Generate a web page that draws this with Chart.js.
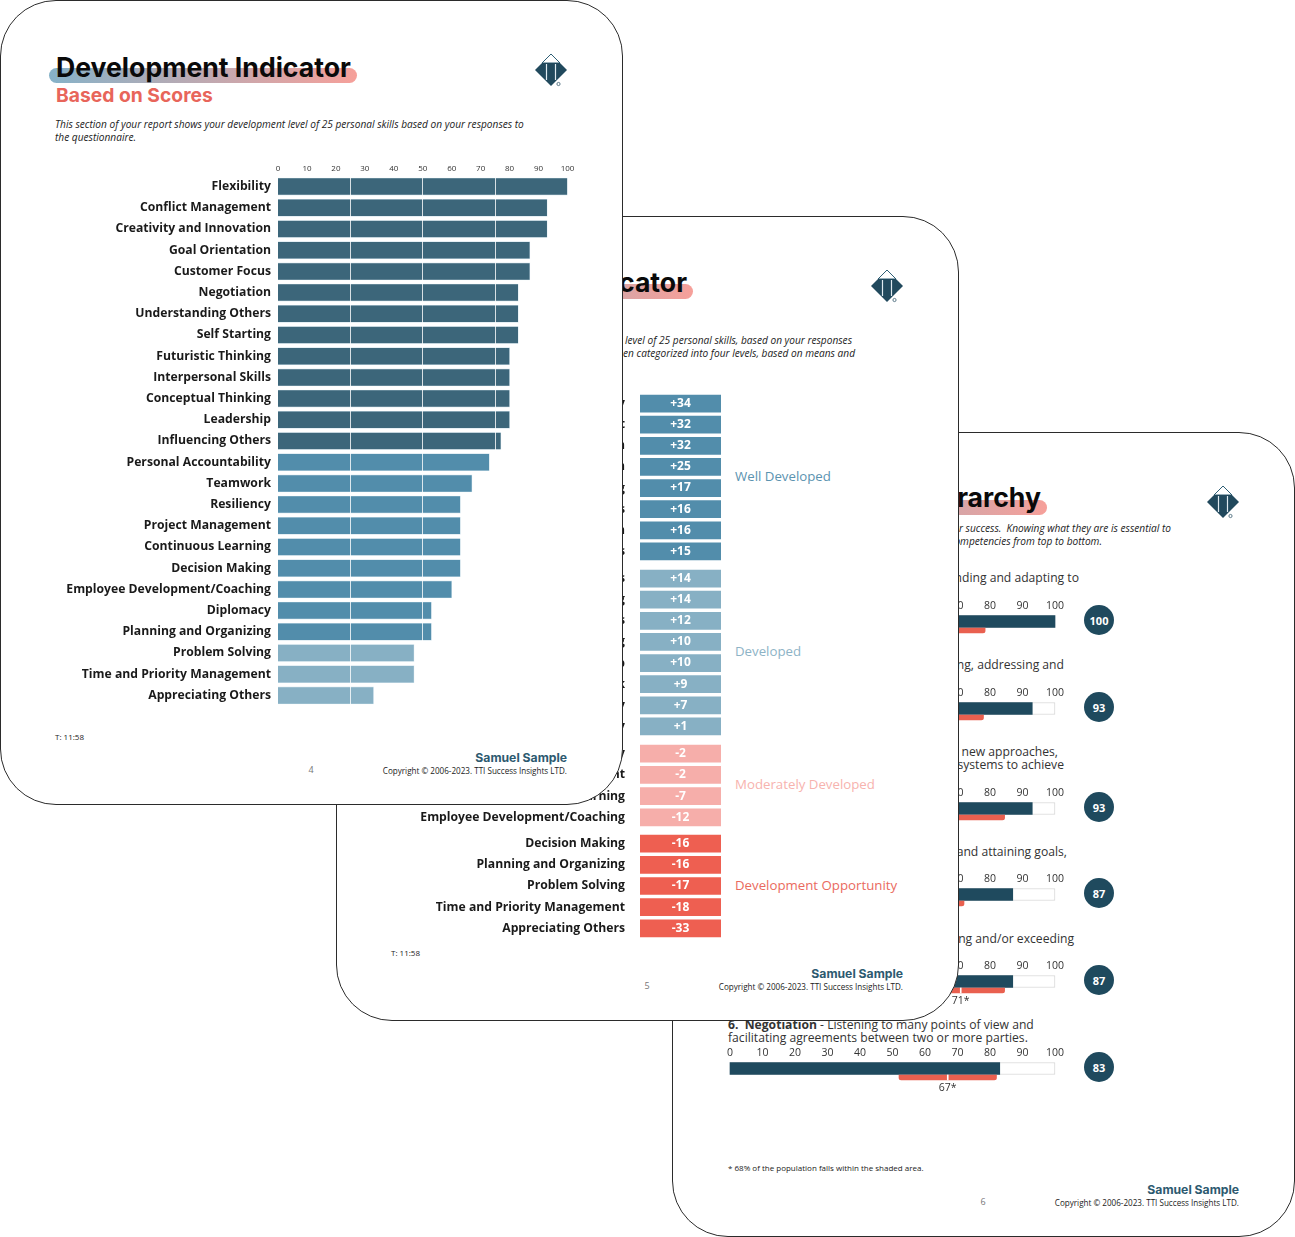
<!DOCTYPE html>
<html>
<head>
<meta charset="utf-8">
<title>Development Indicator</title>
<script src="https://cdn.jsdelivr.net/npm/chart.js@4"></script>
<style>
html, body { margin: 0; padding: 0; background: #fff; }
body { position: relative; width: 1295px; height: 1237px; overflow: hidden; font-family: "Open Sans", sans-serif; }
.page { position: absolute; width: 623px; height: 805px; box-sizing: border-box; background: #fff; border: 1px solid #2b2b2b; border-radius: 56px; overflow: hidden; }
.page > * { position: absolute; }
.txt { white-space: pre; line-height: 1; margin: 0; }
.pill { left: 48px; width: 308px; height: 15px; top: 67px; border-radius: 8px; background: linear-gradient(90deg, #86b2c8 0%, #f6a09a 100%); }
.badge { width: 30px; height: 30px; border-radius: 50%; background: #1f4a5e; color: #fff; font: 700 11px "Open Sans", sans-serif; display: flex; align-items: center; justify-content: center; }
</style>
</head>
<body>
<script>
// Page 1: scores
const scoreLabels = ['Flexibility', 'Conflict Management', 'Creativity and Innovation', 'Goal Orientation', 'Customer Focus', 'Negotiation', 'Understanding Others', 'Self Starting', 'Futuristic Thinking', 'Interpersonal Skills', 'Conceptual Thinking', 'Leadership', 'Influencing Others', 'Personal Accountability', 'Teamwork', 'Resiliency', 'Project Management', 'Continuous Learning', 'Decision Making', 'Employee Development/Coaching', 'Diplomacy', 'Planning and Organizing', 'Problem Solving', 'Time and Priority Management', 'Appreciating Others'];
const scoreValues = [100, 93, 93, 87, 87, 83, 83, 83, 80, 80, 80, 80, 77, 73, 67, 63, 63, 63, 63, 60, 53, 53, 47, 47, 33];
const scoreTicks = [0, 10, 20, 30, 40, 50, 60, 70, 80, 90, 100];

// Page 2: difference from the mean, four levels
const wellLabels = ['Flexibility', 'Conflict Management', 'Creativity and Innovation', 'Goal Orientation', 'Self Starting', 'Customer Focus', 'Negotiation', 'Understanding Others'];
const wellValues = ['+34', '+32', '+32', '+25', '+17', '+16', '+16', '+15'];
const developedLabels = ['Interpersonal Skills', 'Futuristic Thinking', 'Influencing Others', 'Conceptual Thinking', 'Leadership', 'Teamwork', 'Personal Accountability', 'Resiliency'];
const developedValues = ['+14', '+14', '+12', '+10', '+10', '+9', '+7', '+1'];
const moderateLabels = ['Diplomacy', 'Project Management', 'Continuous Learning', 'Employee Development/Coaching'];
const moderateValues = ['-2', '-2', '-7', '-12'];
const opportunityLabels = ['Decision Making', 'Planning and Organizing', 'Problem Solving', 'Time and Priority Management', 'Appreciating Others'];
const opportunityValues = ['-16', '-16', '-17', '-18', '-33'];

// Page 3: hierarchy, score with population mean and shaded band
const hierarchyScores = [100, 93, 93, 87, 87, 83];
const hierarchyMeans = [66, 61, 61, 62, 71, 67];
const bandLow = [53, 44, 46, 52, 57, 52];
const bandHigh = [78.5, 78, 84.5, 72, 84.5, 82];

const DARK = '#3c667a', MID = '#528dab', LIGHT = '#87b0c4', PINK = '#f6aeaa', CORAL = '#ee5f51', NAVY = '#1f4a5e';

Chart.defaults.font.family = '"Open Sans", sans-serif';
Chart.defaults.animation = false;

function makePage(left, top, z) {
    const el = document.createElement('div');
    el.className = 'page';
    el.style.cssText = `left:${left}px;top:${top}px;z-index:${z}`;
    document.body.appendChild(el);
    return { el, left, top };
}

// x, y are picture coordinates; y is the middle of the line
function text(page, str, x, y, css, align) {
    const t = document.createElement('div');
    t.className = 'txt';
    t.textContent = str;
    const lx = x - page.left - 1, ly = y - page.top - 1;
    let pos = `left:${lx}px;top:${ly}px;transform:translateY(-50%);`;
    if (align === 'right') pos = `right:${622 - (x - page.left)}px;top:${ly}px;transform:translateY(-50%);`;
    if (align === 'center') pos = `left:${lx}px;top:${ly}px;transform:translate(-50%,-50%);`;
    t.style.cssText = pos + css;
    page.el.appendChild(t);
    return t;
}

function makeCanvas(page, x, y, w, h) {
    const c = document.createElement('canvas');
    c.width = w;
    c.height = h;
    c.style.cssText = `left:${x - page.left - 1}px;top:${y - page.top - 1}px;width:${w}px;height:${h}px`;
    page.el.appendChild(c);
    return c;
}

function logo(page, x, y) {
    const wrap = document.createElement('div');
    wrap.style.cssText = `left:${x - page.left - 1}px;top:${y - page.top - 1}px;width:34px;height:34px`;
    wrap.innerHTML = '<svg width="34" height="34" viewBox="0 0 34 34">' +
        '<polygon points="17,1 8,10 26,10" fill="none" stroke="#2f5f75" stroke-width="1"/>' +
        '<polygon points="1,17 8,10 26,10 33,17 17,33" fill="#21495d"/>' +
        '<path d="M12.5 11V27M21.5 11V27" stroke="#dfeaf0" stroke-width="1.2"/>' +
        '<circle cx="24.5" cy="31" r="1.6" fill="none" stroke="#21495d" stroke-width=".7"/></svg>';
    page.el.appendChild(wrap);
}

function addPill(page) {
    const pill = document.createElement('div');
    pill.className = 'pill';
    page.el.appendChild(pill);
    return pill;
}

function footer(page, pageNo) {
    text(page, 'Samuel Sample', page.left + 567, page.top + 757, 'font:700 12.2px Inter, sans-serif;color:#2d5a70', 'right');
    text(page, 'Copyright © 2006-2023. TTI Success Insights LTD.', page.left + 567, page.top + 770, 'font:400 8.1px "Open Sans", sans-serif;color:#222', 'right');
    text(page, String(pageNo), page.left + 311, page.top + 769, 'font:400 9px "Open Sans", sans-serif;color:#777', 'center');
}

// the tick padding also reserves room above and below a vertical axis, drop it
function fixAxisWidth(width) {
    return s => {
        s.width = width;
        s.paddingTop = 0;
        s.paddingBottom = 0;
    };
}

const page3 = makePage(672, 432, 1);
const page2 = makePage(336, 216, 2);
const page1 = makePage(0, 0, 3);

const TITLE_CSS = 'font:700 26.6px Inter, sans-serif;color:#0a0a0a;';
const NOTE_CSS = 'font:italic 400 10.15px "Open Sans", sans-serif;color:#222;';
const LABEL_FONT = { size: 12.2, weight: 'bold' };

// ---------- Page 1 ----------
addPill(page1);
text(page1, 'Development Indicator', 56, 67, TITLE_CSS);
text(page1, 'Based on Scores', 56, 95, 'font:700 19.3px Inter, sans-serif;color:#e8655a');
text(page1, 'This section of your report shows your development level of 25 personal skills based on your responses to', 55, 124, NOTE_CSS);
text(page1, 'the questionnaire.', 55, 137, NOTE_CSS);
logo(page1, 534, 53);
text(page1, 'T: 11:58', 55, 736, 'font:400 8px "Open Sans", sans-serif;color:#222');
footer(page1, 4);

new Chart(makeCanvas(page1, 0, 161, 592, 545), {
    type: 'bar',
    data: {
        labels: scoreLabels,
        datasets: [{
            data: scoreValues,
            backgroundColor: scoreValues.map((v, i) => i < 13 ? DARK : i < 22 ? MID : LIGHT),
            borderColor: 'rgba(190, 215, 228, 0.7)',
            borderWidth: 0.6,
            barThickness: 17
        }]
    },
    options: {
        indexAxis: 'y',
        responsive: false,
        layout: { padding: { right: 24.5 } },
        plugins: { legend: { display: false }, tooltip: { enabled: false } },
        scales: {
            x: {
                position: 'top', min: 0, max: 100,
                afterBuildTicks: s => { s.ticks = scoreTicks.map(value => ({ value })); },
                afterFit: s => { s.height = 15; },
                grid: { display: false, drawTicks: false },
                border: { display: false },
                ticks: { color: '#333', font: { size: 8 }, padding: 2, maxRotation: 0 }
            },
            // white dividers over the bars at each quarter
            quarters: {
                type: 'linear', axis: 'x', position: 'top', min: 0, max: 100,
                afterBuildTicks: s => { s.ticks = [25, 50, 75].map(value => ({ value })); },
                afterFit: s => { s.height = 0; },
                grid: { color: 'rgba(255,255,255,0.8)', lineWidth: 1, z: 1, drawTicks: false },
                border: { display: false },
                ticks: { display: false }
            },
            y: {
                afterFit: fixAxisWidth(278),
                grid: { display: false, drawTicks: false },
                border: { display: false },
                ticks: { color: '#1a1a1a', font: LABEL_FONT, padding: 7, autoSkip: false }
            }
        }
    }
});

// ---------- Page 2 ----------
addPill(page2);
text(page2, 'Development Indicator', 687, 282, TITLE_CSS, 'right');
text(page2, 'This section of your report shows your development level of 25 personal skills, based on your responses', 852, 340, NOTE_CSS, 'right');
text(page2, 'to the questionnaire.  These have been categorized into four levels, based on means and', 855, 353, NOTE_CSS, 'right');
logo(page2, 870, 269);
text(page2, 'T: 11:58', 391, 952, 'font:400 8px "Open Sans", sans-serif;color:#222');
footer(page2, 5);

// value text in the middle of each box
const boxText = {
    id: 'boxText',
    afterDatasetsDraw(chart, args, opts) {
        const { ctx } = chart;
        ctx.save();
        ctx.font = '700 12px "Open Sans", sans-serif';
        ctx.fillStyle = '#fff';
        ctx.textAlign = 'center';
        ctx.textBaseline = 'middle';
        chart.getDatasetMeta(0).data.forEach((bar, i) => {
            ctx.fillText(opts.values[i], (chart.chartArea.left + chart.chartArea.right) / 2, bar.y);
        });
        ctx.restore();
    }
};

function levelChart(labels, values, color, centerY) {
    const h = Math.round(labels.length * 21.15);
    new Chart(makeCanvas(page2, 336, Math.round(centerY - 10.5), 385, h), {
        type: 'bar',
        data: {
            labels,
            // every box has the same width, the number is only printed
            datasets: [{ data: values.map(() => 1), backgroundColor: color, barThickness: 17 }]
        },
        options: {
            indexAxis: 'y',
            responsive: false,
            plugins: { legend: { display: false }, tooltip: { enabled: false }, boxText: { values } },
            scales: {
                x: { display: false, min: 0, max: 1 },
                y: {
                    afterFit: fixAxisWidth(304),
                    grid: { display: false, drawTicks: false },
                    border: { display: false },
                    ticks: { color: '#1a1a1a', font: LABEL_FONT, padding: 15, autoSkip: false }
                }
            }
        },
        plugins: [boxText]
    });
}
levelChart(wellLabels, wellValues, MID, 403);
levelChart(developedLabels, developedValues, LIGHT, 578);
levelChart(moderateLabels, moderateValues, PINK, 753);
levelChart(opportunityLabels, opportunityValues, CORAL, 843.5);

const LEVEL_CSS = 'font:400 13.25px "Open Sans", sans-serif;';
text(page2, 'Well Developed', 735, 476, LEVEL_CSS + 'color:#5b93b0');
text(page2, 'Developed', 735, 651, LEVEL_CSS + 'color:#8db3c6');
text(page2, 'Moderately Developed', 735, 784, LEVEL_CSS + 'color:#f7b3ae');
text(page2, 'Development Opportunity', 735, 885, LEVEL_CSS + 'color:#ea6a5e');

// ---------- Page 3 ----------
const p3pill = addPill(page3);
p3pill.style.width = '326px';
text(page3, 'Behavioral Hierarchy', 1041, 497, TITLE_CSS, 'right');
text(page3, 'These competencies are critical for your success.  Knowing what they are is essential to', 1171, 528, NOTE_CSS, 'right');
text(page3, 'your development.  We list the competencies from top to bottom.', 1102, 541, NOTE_CSS, 'right');
logo(page3, 1206, 485);
text(page3, '* 68% of the population falls within the shaded area.', 728, 1167, 'font:400 8px "Open Sans", sans-serif;color:#222');
footer(page3, 6);

const BODY_CSS = 'font:400 12.15px "Open Sans", sans-serif;color:#333;';
text(page3, 'Readily modifying, responding and adapting to', 1079, 577, BODY_CSS, 'right');
text(page3, 'Understanding, addressing and', 1064, 664, BODY_CSS, 'right');
text(page3, 'Adapting traditional or devising new approaches,', 1058, 751, BODY_CSS, 'right');
text(page3, 'concepts, methods, and/or systems to achieve', 1064, 764, BODY_CSS, 'right');
text(page3, 'Setting, pursuing and attaining goals,', 1067, 851, BODY_CSS, 'right');
text(page3, 'Anticipating, meeting and/or exceeding', 1074, 938, BODY_CSS, 'right');
const neg = text(page3, '', 728, 1024, BODY_CSS);
neg.innerHTML = '<b>6.  Negotiation</b> - Listening to many points of view and';
text(page3, 'facilitating agreements between two or more parties.', 728, 1037, BODY_CSS);

// label under the shaded band
const meanText = {
    id: 'meanText',
    afterDatasetsDraw(chart, args, opts) {
        const { ctx, scales } = chart;
        ctx.save();
        ctx.font = '400 10.5px "Open Sans", sans-serif';
        ctx.fillStyle = '#333';
        ctx.textAlign = 'center';
        ctx.textBaseline = 'top';
        ctx.fillText(opts.mean + '*', scales.x.getPixelForValue(opts.mean), chart.chartArea.bottom + 1);
        ctx.restore();
    }
};

function hierarchyChart(score, mean, low, high, plotTop) {
    new Chart(makeCanvas(page3, 715, plotTop - 22, 355, 54), {
        type: 'bar',
        data: {
            labels: ['score', 'norm'],
            datasets: [
                { data: [100, null], backgroundColor: '#fff', borderColor: '#d8d8d8', borderWidth: 1, barThickness: 12, clip: false, grouped: false, order: 4 },
                { data: [score, null], backgroundColor: NAVY, barThickness: 12, clip: false, grouped: false, order: 3 },
                { data: [null, [low, high]], backgroundColor: '#e9604f', barThickness: 5, borderSkipped: false, borderRadius: { bottomLeft: 4, bottomRight: 4 }, clip: false, grouped: false, order: 2 },
                { data: [null, [mean - 0.15, mean + 0.15]], backgroundColor: '#fff', barThickness: 5, clip: false, grouped: false, order: 1 }
            ]
        },
        options: {
            indexAxis: 'y',
            responsive: false,
            layout: { padding: { left: 15, right: 15, bottom: 14 } },
            plugins: { legend: { display: false }, tooltip: { enabled: false }, meanText: { mean } },
            scales: {
                x: {
                    position: 'top', min: 0, max: 100,
                    afterBuildTicks: s => { s.ticks = scoreTicks.map(value => ({ value })); },
                    afterFit: s => { s.height = 22; },
                    grid: { display: false, drawTicks: false },
                    border: { display: false },
                    ticks: { color: '#333', font: { size: 10.5 }, padding: 5, maxRotation: 0 }
                },
                y: { display: false }
            }
        },
        plugins: [meanText]
    });
}

const rowTops = [617, 704, 804, 890, 977, 1064];
hierarchyScores.forEach((score, i) => {
    hierarchyChart(score, hierarchyMeans[i], bandLow[i], bandHigh[i], rowTops[i]);
    const b = document.createElement('div');
    b.className = 'badge';
    b.textContent = score;
    b.style.left = (1084 - page3.left - 1) + 'px';
    b.style.top = (rowTops[i] - 12 - page3.top - 1) + 'px';
    page3.el.appendChild(b);
});
</script>
</body>
</html>
